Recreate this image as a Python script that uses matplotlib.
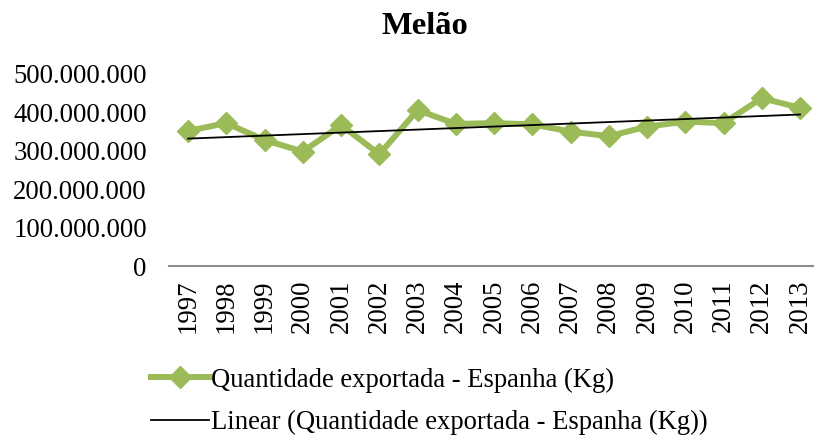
import matplotlib
matplotlib.use("Agg")
import matplotlib.pyplot as plt
import numpy as np

# dados (kg)
anos = ["1997", "1998", "1999", "2000", "2001", "2002", "2003", "2004", "2005",
        "2006", "2007", "2008", "2009", "2010", "2011", "2012", "2013"]
quantidade = [352e6, 372e6, 328e6, 298e6, 367e6, 291e6, 406e6, 370e6, 372e6,
              369e6, 350e6, 338e6, 363e6, 376e6, 372e6, 437e6, 412e6]
yticks = [0, 100e6, 200e6, 300e6, 400e6, 500e6]

plt.rcParams['font.family'] = ['Liberation Serif', 'DejaVu Serif']

W, H = 814, 436
fig = plt.figure(figsize=(W / 100, H / 100), dpi=100)
ax = fig.add_axes([169 / W, 170 / H, (W - 169) / W, 192 / H])

x = np.arange(len(anos))
ax.plot(x, quantidade, color='#9BBB59', lw=4.3, marker='D', markersize=11,
        label='Quantidade exportada - Espanha (Kg)')

# linha de tendência linear
coef = np.polyfit(x, quantidade, 1)
ax.plot(x, np.polyval(coef, x), color='black', lw=1.3,
        label='Linear (Quantidade exportada - Espanha (Kg))')

ax.set_xlim(-0.5, (W - 188) / 38.25)
ax.set_ylim(0, 500e6)
ax.set_yticks(yticks)
ax.set_yticklabels(['0' if v == 0 else f"{int(v):,}".replace(',', '.') for v in yticks])
ax.set_xticks(x)
ax.set_xticklabels(anos, rotation=90)
ax.tick_params(axis='both', length=0, labelsize=19.3)
ax.tick_params(axis='y', pad=16)
ax.tick_params(axis='x', pad=10)

for s in ['top', 'right', 'left']:
    ax.spines[s].set_visible(False)
ax.spines['bottom'].set_color('#8C8C8C')
ax.spines['bottom'].set_linewidth(1.5)

fig.text(425 / W, 1 - 27 / H, 'Melão', ha='center', va='center',
         fontsize=23.4, fontweight='bold')

fig.legend(loc='upper left', bbox_to_anchor=(140 / W, 1 - 357 / H), frameon=False,
           fontsize=19.2, handlelength=2.2, handletextpad=0.05, labelspacing=0.65,
           borderaxespad=0)

fig.savefig('out.png', dpi=100)
